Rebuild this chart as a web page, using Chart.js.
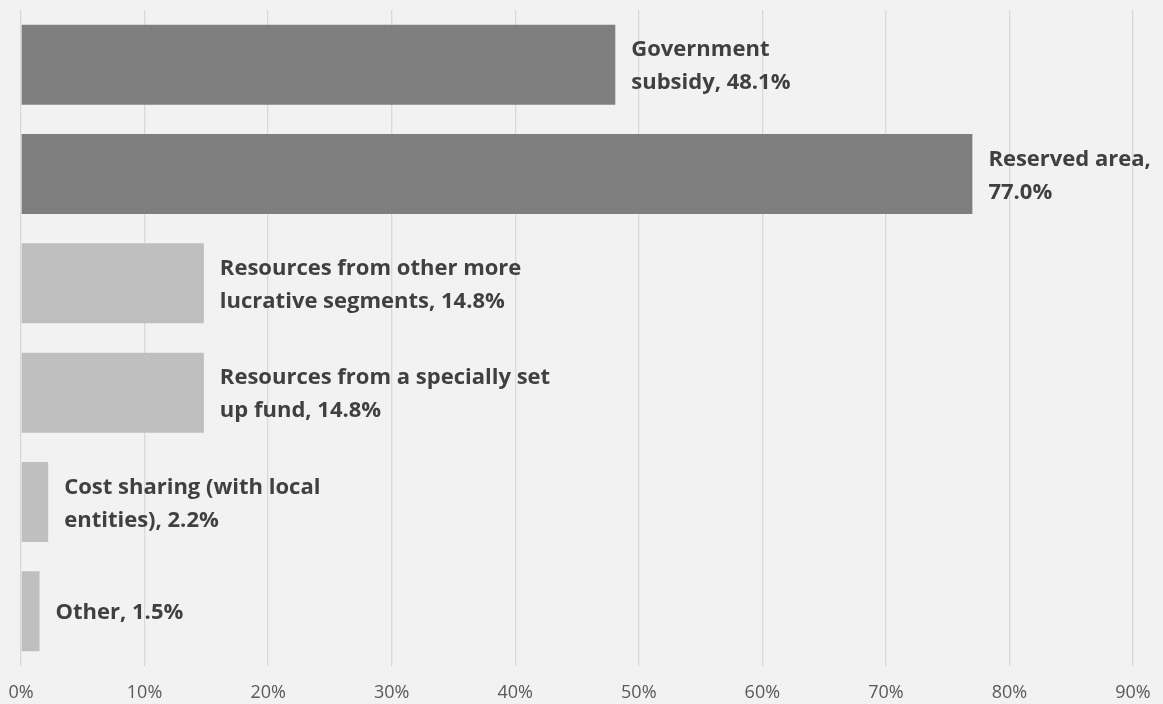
<!DOCTYPE html>
<html>
<head>
<meta charset="utf-8">
<script src="https://cdn.jsdelivr.net/npm/chart.js@4/dist/chart.umd.min.js"></script>
<style>
  html, body { margin: 0; padding: 0; background: #f2f2f2; }
  #wrap { width: 1163px; height: 704px; }
  canvas { display: block; }
</style>
</head>
<body>
<div id="wrap"><canvas id="c" width="1163" height="704"></canvas></div>
<script>
const categories = [
  "Government subsidy",
  "Reserved area",
  "Resources from other more lucrative segments",
  "Resources from a specially set up fund",
  "Cost sharing (with local entities)",
  "Other"
];
const values = [48.1, 77.0, 14.8, 14.8, 2.2, 1.5];
const labelLines = [
  ["Government", "subsidy, 48.1%"],
  ["Reserved area,", "77.0%"],
  ["Resources from other more", "lucrative segments, 14.8%"],
  ["Resources from a specially set", "up fund, 14.8%"],
  ["Cost sharing (with local", "entities), 2.2%"],
  ["Other, 1.5%"]
];
const barColors = ["#7f7f7f", "#7f7f7f", "#bfbfbf", "#bfbfbf", "#bfbfbf", "#bfbfbf"];
const xTickValues = [0, 10, 20, 30, 40, 50, 60, 70, 80, 90];

const labelPlugin = {
  id: "barLabels",
  afterDatasetsDraw(chart) {
    const ctx = chart.ctx;
    const meta = chart.getDatasetMeta(0);
    ctx.save();
    ctx.font = "bold 22px 'Open Sans'";
    ctx.fillStyle = "#404040";
    ctx.textAlign = "left";
    ctx.textBaseline = "alphabetic";
    const lh = 33;
    const capHalf = 8;
    meta.data.forEach((bar, i) => {
      const lines = labelLines[i];
      const x = bar.x + 16;
      const y0 = bar.y - (lines.length - 1) * lh / 2 + capHalf;
      lines.forEach((line, j) => ctx.fillText(line, x, y0 + j * lh));
    });
    ctx.restore();
  }
};

const bgPlugin = {
  id: "bg",
  beforeDraw(chart) {
    const ctx = chart.ctx;
    ctx.save();
    ctx.fillStyle = "#f2f2f2";
    ctx.fillRect(0, 0, chart.width, chart.height);
    ctx.restore();
  }
};

new Chart(document.getElementById("c"), {
  type: "bar",
  data: {
    labels: categories,
    datasets: [{
      data: values,
      backgroundColor: barColors,
      borderWidth: 0,
      barPercentage: 0.732,
      categoryPercentage: 1.0
    }]
  },
  options: {
    indexAxis: "y",
    responsive: false,
    animation: false,
    events: [],
    layout: { padding: { left: 21, right: 30, top: 10, bottom: 0 } },
    plugins: { legend: { display: false }, tooltip: { enabled: false } },
    scales: {
      y: { display: false },
      x: {
        min: 0,
        max: 90,
        afterBuildTicks(axis) { axis.ticks = xTickValues.map(v => ({ value: v })); },
        afterFit(scale) {
          scale.height = 38;
          scale.paddingLeft = 0;
          scale.paddingRight = 0;
          scale.paddingTop = 0;
          scale.paddingBottom = 0;
        },
        grid: { color: "#d9d9d9", lineWidth: 1.3, drawTicks: false },
        border: { display: false },
        ticks: {
          padding: 16,
          maxRotation: 0,
          color: "#595959",
          font: { family: "'Open Sans'", size: 18 },
          callback: (v) => v + "%"
        }
      }
    }
  },
  plugins: [bgPlugin, labelPlugin]
});
</script>
</body>
</html>
